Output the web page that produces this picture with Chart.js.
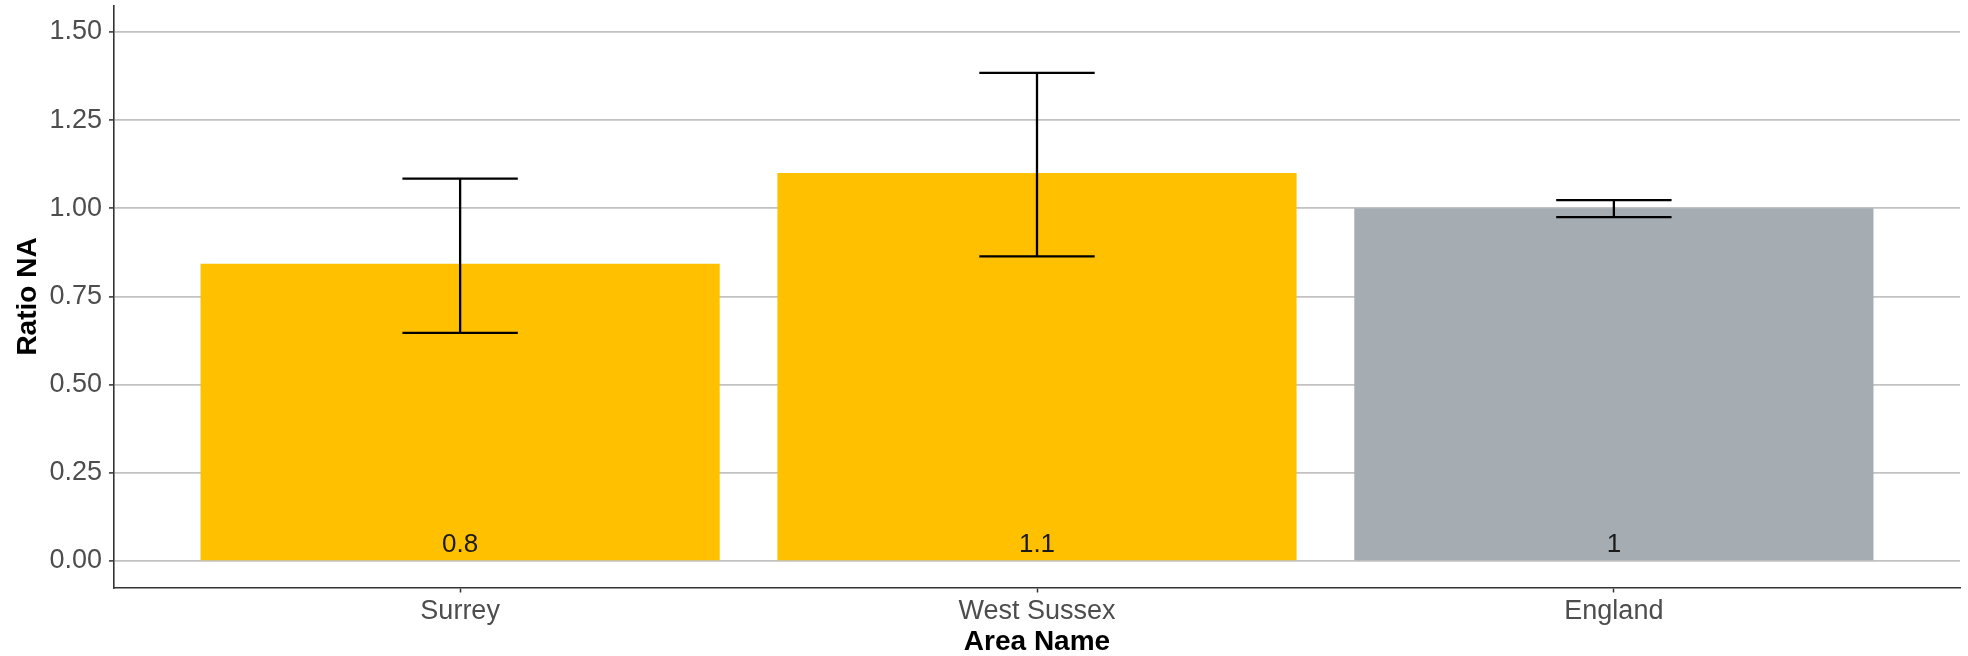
<!DOCTYPE html>
<html>
<head>
<meta charset="utf-8">
<script src="https://cdn.jsdelivr.net/npm/chart.js@4/dist/chart.umd.min.js"></script>
<style>
  html, body { margin: 0; padding: 0; background: #ffffff; }
  #wrap { width: 1968px; height: 656px; }
</style>
</head>
<body>
<div id="wrap"><canvas id="c" width="1968" height="656"></canvas></div>
<script>
// ---- data ----
const categories = ['Surrey', 'West Sussex', 'England'];
const ratioValues = [0.843, 1.100, 1.000];
const lowerCI = [0.647, 0.864, 0.975];
const upperCI = [1.084, 1.384, 1.023];
const valueLabels = ['0.8', '1.1', '1'];
const barColors = ['#FFC000', '#FFC000', '#A5ACB2'];
const yTicks = [0, 0.25, 0.5, 0.75, 1.0, 1.25, 1.5];
const yTickLabels = ['0.00', '0.25', '0.50', '0.75', '1.00', '1.25', '1.50'];
const xTitle = 'Area Name';
const yTitle = 'Ratio NA';

const FONT = "'Liberation Sans', Arial, sans-serif";

const errorBarPlugin = {
  id: 'errorBars',
  afterDatasetsDraw(chart) {
    const xs = chart.scales.x, ys = chart.scales.y;
    const ctx = chart.ctx;
    ctx.save();
    ctx.strokeStyle = '#000000';
    ctx.lineWidth = 2.3;
    ctx.lineCap = 'butt';
    categories.forEach((c, i) => {
      const xc = xs.getPixelForValue(i + 1);
      const xl = xs.getPixelForValue(i + 1 - 0.1);
      const xr = xs.getPixelForValue(i + 1 + 0.1);
      const yu = ys.getPixelForValue(upperCI[i]);
      const yl = ys.getPixelForValue(lowerCI[i]);
      ctx.beginPath();
      ctx.moveTo(xc, yu); ctx.lineTo(xc, yl);
      ctx.moveTo(xl, yu); ctx.lineTo(xr, yu);
      ctx.moveTo(xl, yl); ctx.lineTo(xr, yl);
      ctx.stroke();
    });
    // value labels
    ctx.fillStyle = '#1a1a1a';
    ctx.font = '26px ' + FONT;
    ctx.textAlign = 'center';
    ctx.textBaseline = 'alphabetic';
    categories.forEach((c, i) => {
      const xc = xs.getPixelForValue(i + 1);
      const y0 = ys.getPixelForValue(0);
      ctx.fillText(valueLabels[i], xc, y0 - 9);
    });
    ctx.restore();
  }
};

new Chart(document.getElementById('c'), {
  type: 'bar',
  data: {
    datasets: [{
      data: categories.map((c, i) => ({ x: i + 1, y: ratioValues[i] })),
      backgroundColor: barColors,
      borderWidth: 0,
      categoryPercentage: 1.0,
      barPercentage: 0.9
    }]
  },
  options: {
    responsive: false,
    devicePixelRatio: 1,
    animation: false,
    layout: { padding: { top: 5.5, right: 8, left: 0, bottom: 0 } },
    plugins: { legend: { display: false }, tooltip: { enabled: false } },
    scales: {
      x: {
        type: 'linear',
        offset: false,
        min: 0.4,
        max: 3.6,
        afterBuildTicks: (s) => { s.ticks = categories.map((c, i) => ({ value: i + 1 })); },
        afterFit: (s) => { s.height = 68.5; s.paddingLeft = 0; s.paddingRight = 0; },
        ticks: {
          autoSkip: false,
          maxRotation: 0,
          padding: 3,
          color: '#4d4d4d',
          font: { family: FONT, size: 27 },
          callback: (v) => categories[Math.round(v) - 1]
        },
        grid: { offset: false, drawOnChartArea: false, drawTicks: true, tickLength: 5, tickColor: '#333333', tickWidth: 1.5 },
        border: { display: true, color: '#333333', width: 1.6 },
        title: {
          display: true, text: xTitle, color: '#000000',
          font: { family: FONT, size: 28, weight: 'bold' },
          padding: { top: 0, bottom: -3 }
        }
      },
      y: {
        type: 'linear',
        min: -0.075,
        max: 1.575,
        afterBuildTicks: (s) => { s.ticks = yTicks.map(v => ({ value: v })); },
        afterFit: (s) => { s.width = 114; s.paddingTop = 0; s.paddingBottom = 0; },
        ticks: {
          padding: 7,
          color: '#4d4d4d',
          font: { family: FONT, size: 27 },
          callback: (v) => yTickLabels[yTicks.indexOf(v)]
        },
        grid: { color: '#c2c2c2', lineWidth: 1.8, drawTicks: true, tickLength: 5, tickColor: '#333333', tickWidth: 1.5 },
        border: { display: true, color: '#333333', width: 1.6 },
        title: {
          display: true, text: yTitle, color: '#000000',
          font: { family: FONT, size: 28, weight: 'bold' },
          padding: { top: 11, bottom: 0 }
        }
      }
    }
  },
  plugins: [errorBarPlugin]
});
</script>
</body>
</html>
